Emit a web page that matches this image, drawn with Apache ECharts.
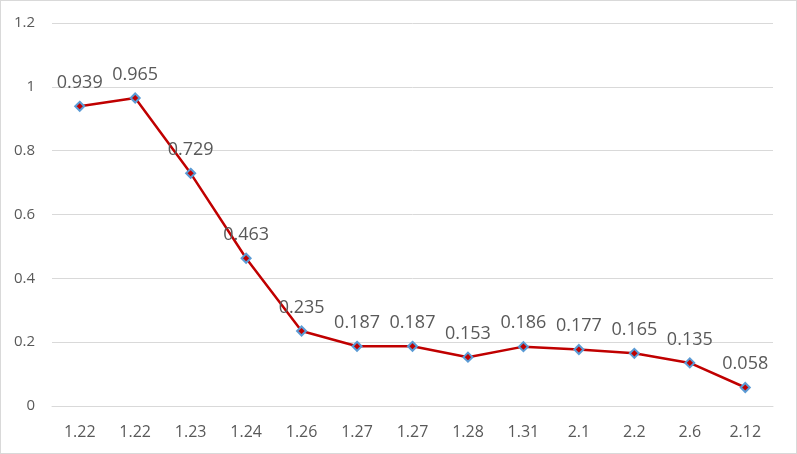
<!DOCTYPE html>
<html>
<head>
<meta charset="utf-8">
<script src="https://cdn.jsdelivr.net/npm/echarts@6/dist/echarts.min.js"></script>
<style>
  html, body { margin: 0; padding: 0; background: #fff; }
  #chart { width: 797px; height: 454px; box-sizing: border-box; border: 1px solid #d9d9d9; }
</style>
</head>
<body>
<div id="chart"></div>
<script>
// x categories (duplicates are in the original)
const categories = ['1.22', '1.22', '1.23', '1.24', '1.26', '1.27', '1.27', '1.28', '1.31', '2.1', '2.2', '2.6', '2.12']
const values = [0.939, 0.965, 0.729, 0.463, 0.235, 0.187, 0.187, 0.153, 0.186, 0.177, 0.165, 0.135, 0.058]
const yTicks = { min: 0, max: 1.2, interval: 0.2 }

const chart = echarts.init(document.getElementById('chart'))

chart.setOption({
  animation: false,
  textStyle: { fontFamily: 'Open Sans, Liberation Sans, sans-serif' },
  grid: { left: 51, right: 23, top: 22, bottom: 47, containLabel: false },
  xAxis: {
    type: 'category',
    data: categories,
    boundaryGap: true,
    axisLine: { lineStyle: { color: '#d9d9d9', width: 1 } },
    axisTick: { show: false },
    axisLabel: { color: '#595959', fontSize: 16, margin: 18 }
  },
  yAxis: {
    type: 'value',
    min: yTicks.min,
    max: yTicks.max,
    interval: yTicks.interval,
    axisLine: { show: false },
    axisTick: { show: false },
    splitLine: { lineStyle: { color: '#d9d9d9', width: 1 } },
    axisLabel: {
      color: '#595959',
      fontSize: 15,
      margin: 17,
      formatter: (v) => String(Math.round(v * 10) / 10)
    }
  },
  series: [{
    type: 'line',
    data: values,
    symbol: 'diamond',
    symbolSize: 9,
    lineStyle: { color: '#c00000', width: 2.5 },
    itemStyle: { color: '#c00000', borderColor: '#5b9bd5', borderWidth: 2 },
    label: {
      show: true,
      position: 'top',
      distance: 9,
      color: '#595959',
      fontSize: 18,
      formatter: (p) => p.value.toFixed(3)
    }
  }]
})
</script>
</body>
</html>
